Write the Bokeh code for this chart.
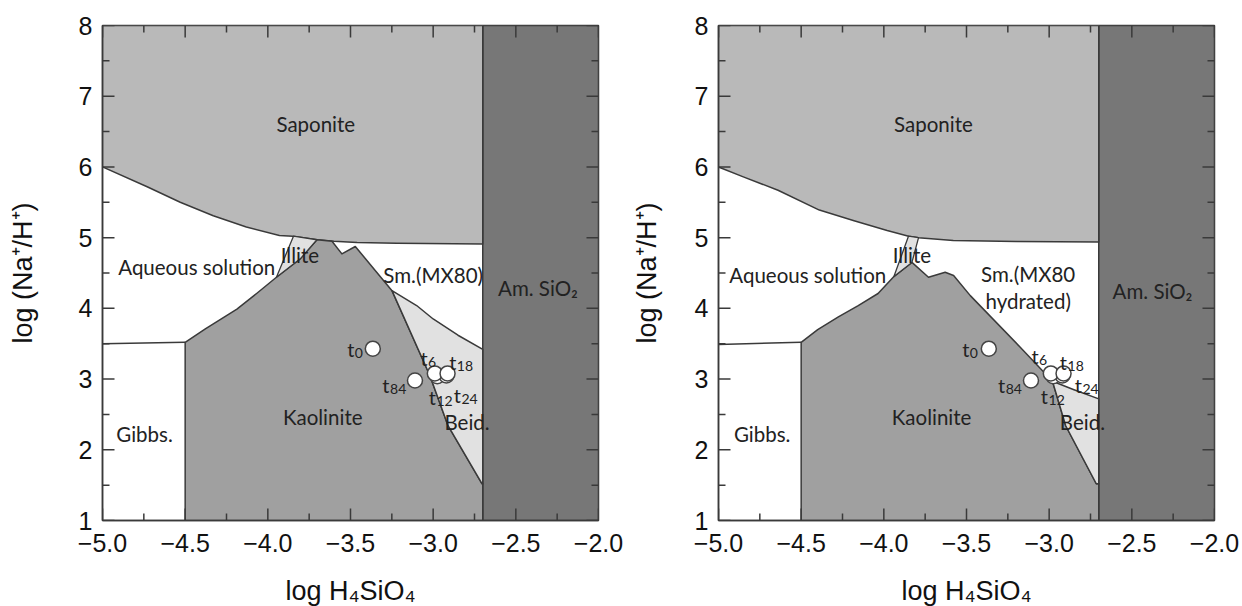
import math
from bokeh.plotting import figure
from bokeh.models import FixedTicker, Range1d
from bokeh.layouts import row
from bokeh.core.properties import value
from bokeh.embed import file_html
from bokeh.resources import INLINE

# ---------------- axes / ticks ----------------
x_min, x_max = -5.0, -2.0
y_min, y_max = 1.0, 8.0
x_ticks = [-5.0, -4.5, -4.0, -3.5, -3.0, -2.5, -2.0]
x_tick_labels = ["−5.0", "−4.5", "−4.0", "−3.5", "−3.0", "−2.5", "−2.0"]
x_minor_ticks = [-4.75, -4.25, -3.75, -3.25, -2.75, -2.25]
y_ticks = [1, 2, 3, 4, 5, 6, 7, 8]
y_tick_labels = ["1", "2", "3", "4", "5", "6", "7", "8"]
y_minor_ticks = [1.5, 2.5, 3.5, 4.5, 5.5, 6.5, 7.5]
x_title = "log H₄SiO₄"
y_title = "log (Na⁺/H⁺)"

am_sio2_left = -2.7

# ---------------- left panel (Sm. MX80) ----------------
L_saponite_x = [-5.0, -4.73, -4.53, -4.33, -4.13, -3.93, -3.85, -3.70, -3.60, -3.46, -3.22, -2.70]
L_saponite_y = [6.00, 5.72, 5.50, 5.31, 5.15, 5.03, 5.02, 4.97, 4.95, 4.93, 4.92, 4.91]

L_kaolinite_x = [-4.5, -4.5, -4.378, -4.187, -4.068, -3.948, -3.804, -3.703, -3.612, -3.552,
                 -3.471, -3.249, -3.02, -2.91, -2.705, -2.7, -2.7]
L_kaolinite_y = [1.0, 3.52, 3.71, 3.99, 4.21, 4.44, 4.70, 4.97, 4.95, 4.77,
                 4.875, 4.25, 3.05, 2.34, 1.52, 1.52, 1.0]

L_illite_x = [-3.845, -3.703, -3.804, -3.948]
L_illite_y = [5.02, 4.97, 4.70, 4.44]

L_beid_x = [-3.249, -3.10, -3.0, -2.85, -2.70, -2.70, -2.705, -2.91, -3.02]
L_beid_y = [4.25, 4.04, 3.85, 3.62, 3.42, 1.52, 1.52, 2.34, 3.05]

L_gibbs_x = [-5.0, -4.5]
L_gibbs_y = [3.50, 3.52]

L_region_labels = ["Saponite", "Aqueous solution", "Illite", "Sm.(MX80)", "Am. SiO₂",
                   "Kaolinite", "Gibbs.", "Beid."]
L_region_x = [-3.71, -4.43, -3.806, -3.0, -2.366, -3.668, -4.746, -2.795]
L_region_y = [6.61, 4.58, 4.75, 4.465, 4.29, 2.46, 2.225, 2.40]

# ---------------- right panel (Sm. MX80 hydrated) ----------------
R_saponite_x = [-5.0, -4.85, -4.64, -4.39, -4.18, -3.98, -3.85, -3.79, -3.58, -3.20, -2.70]
R_saponite_y = [6.00, 5.86, 5.67, 5.39, 5.24, 5.10, 5.02, 5.00, 4.96, 4.945, 4.94]

R_kaolinite_x = [-4.5, -4.5, -4.40, -4.275, -4.155, -4.035, -3.939, -3.83, -3.73, -3.629,
                 -3.578, -3.477, -3.175, -2.98, -2.90, -2.715, -2.7, -2.7]
R_kaolinite_y = [1.0, 3.52, 3.70, 3.88, 4.04, 4.21, 4.45, 4.65, 4.44, 4.51,
                 4.465, 4.18, 3.45, 2.97, 2.34, 1.52, 1.52, 1.0]

R_illite_x = [-3.851, -3.79, -3.83, -3.939]
R_illite_y = [5.02, 5.00, 4.65, 4.45]

R_beid_x = [-2.98, -2.85, -2.70, -2.70, -2.715, -2.90]
R_beid_y = [2.97, 2.85, 2.72, 1.52, 1.52, 2.34]

R_gibbs_x = [-5.0, -4.5]
R_gibbs_y = [3.49, 3.52]

R_region_labels = ["Saponite", "Aqueous solution", "Illite", "Sm.(MX80\nhydrated)", "Am. SiO₂",
                   "Kaolinite", "Gibbs.", "Beid."]
R_region_x = [-3.70, -4.46, -3.83, -3.127, -2.375, -3.711, -4.736, -2.799]
R_region_y = [6.61, 4.465, 4.75, 4.30, 4.25, 2.46, 2.23, 2.39]

# ---------------- sample points (same in both panels) ----------------
t_base = ["t", "t", "t", "t", "t", "t"]
t_sub = ["0", "84", "12", "24", "6", "18"]
t_x = [-3.365, -3.11, -2.975, -2.92, -2.99, -2.913]
t_y = [3.43, 2.98, 3.04, 3.05, 3.08, 3.08]

L_tlabel_x = [-3.477, -3.264, -2.983, -2.832, -3.034, -2.860]
L_tlabel_y = [3.43, 2.92, 2.74, 2.78, 3.30, 3.24]
R_tlabel_x = [-3.483, -3.266, -3.007, -2.802, -3.064, -2.892]
R_tlabel_y = [3.43, 2.92, 2.76, 2.91, 3.32, 3.24]

# ---------------- styles ----------------
C_SAP = "#b9b9b9"
C_KAO = "#a0a0a0"
C_AM = "#777777"
C_LIGHT = "#e1e1e1"
C_LINE = "#3a3a3a"
LABEL_FONT = "Lato"
AXIS_FONT = "Liberation Sans"


def style_axis(ax):
    ax.axis_line_color = C_LINE
    ax.axis_line_width = 1.5
    ax.major_tick_in = 0
    ax.major_tick_out = 0
    ax.minor_tick_in = 0
    ax.minor_tick_out = 0
    ax.major_tick_line_color = None
    ax.minor_tick_line_color = None
    ax.major_label_text_font = AXIS_FONT
    ax.major_label_text_font_size = "25px"
    ax.major_label_text_color = "#111111"
    ax.axis_label_text_font = AXIS_FONT
    ax.axis_label_text_font_size = "27px"
    ax.axis_label_text_font_style = "normal"
    ax.axis_label_text_color = "#111111"


def make_panel(sap_x, sap_y, kao_x, kao_y, ill_x, ill_y, beid_x, beid_y, gib_x, gib_y,
               reg_lab, reg_x, reg_y, tl_x, tl_y, border_left, border_right, ytitle_standoff):
    p = figure(frame_width=496, frame_height=495,
               x_range=Range1d(x_min, x_max), y_range=Range1d(y_min, y_max),
               output_backend="svg", toolbar_location=None,
               min_border_left=border_left, min_border_right=border_right,
               min_border_top=25, min_border_bottom=86,
               background_fill_color="white", border_fill_color="white")
    p.xgrid.visible = False
    p.ygrid.visible = False
    p.outline_line_color = C_LINE
    p.outline_line_width = 1.5

    # Am. SiO2 band
    p.quad(left=am_sio2_left, right=x_max, bottom=y_min, top=y_max,
           fill_color=C_AM, line_color=C_LINE, line_width=1.5)
    # Saponite field: boundary curve closed along the top of the diagram
    p.patch(sap_x + [sap_x[-1], sap_x[0]], sap_y + [y_max, y_max],
            fill_color=C_SAP, line_color=C_LINE, line_width=1.5, line_join="round")
    p.patch(kao_x, kao_y, fill_color=C_KAO, line_color=C_LINE, line_width=1.5, line_join="round")
    p.patch(ill_x, ill_y, fill_color=C_LIGHT, line_color=C_LINE, line_width=1.3, line_join="round")
    p.patch(beid_x, beid_y, fill_color=C_LIGHT, line_color=C_LINE, line_width=1.5, line_join="round")
    p.line(gib_x, gib_y, line_color=C_LINE, line_width=1.5)

    # inward ticks on all four sides, taken from the tick lists
    tk = dict(line_color=C_LINE, line_width=1.5, length_units="screen")
    p.ray(x=x_ticks, y=y_min, length=12, angle=math.pi / 2, **tk)
    p.ray(x=x_minor_ticks, y=y_min, length=7, angle=math.pi / 2, **tk)
    p.ray(x=x_ticks, y=y_max, length=12, angle=-math.pi / 2, **tk)
    p.ray(x=x_minor_ticks, y=y_max, length=7, angle=-math.pi / 2, **tk)
    p.ray(x=x_min, y=y_ticks, length=12, angle=0, **tk)
    p.ray(x=x_min, y=y_minor_ticks, length=7, angle=0, **tk)
    p.ray(x=x_max, y=y_ticks, length=12, angle=math.pi, **tk)
    p.ray(x=x_max, y=y_minor_ticks, length=7, angle=math.pi, **tk)

    p.text(x=reg_x, y=reg_y, text=reg_lab, text_font=value(LABEL_FONT),
           text_font_size="20.5px", text_align="center", text_baseline="middle",
           text_color="#222222", text_line_height=1.12)

    p.scatter(t_x, t_y, size=15, fill_color="white", line_color="#444444", line_width=1.5)
    p.text(x=tl_x, y=tl_y, text=t_base, text_font=value(LABEL_FONT),
           text_font_size="20px", text_align="right", text_baseline="alphabetic",
           text_color="#222222")
    p.text(x=tl_x, y=tl_y, text=t_sub, text_font=value(LABEL_FONT),
           text_font_size="14px", text_align="left", text_baseline="alphabetic",
           y_offset=4, x_offset=0.5, text_color="#222222")

    p.xaxis.ticker = FixedTicker(ticks=x_ticks, minor_ticks=x_minor_ticks)
    p.yaxis.ticker = FixedTicker(ticks=y_ticks, minor_ticks=y_minor_ticks)
    p.xaxis.major_label_overrides = dict(zip(x_ticks, x_tick_labels))
    p.yaxis.major_label_overrides = dict(zip(y_ticks, y_tick_labels))
    p.xaxis.axis_label = x_title
    p.yaxis.axis_label = y_title
    style_axis(p.xaxis[0])
    style_axis(p.yaxis[0])
    p.xaxis.major_label_standoff = 13
    p.yaxis.major_label_standoff = 10
    p.xaxis.axis_label_standoff = 21
    p.yaxis.axis_label_standoff = ytitle_standoff
    return p


p1 = make_panel(L_saponite_x, L_saponite_y, L_kaolinite_x, L_kaolinite_y, L_illite_x, L_illite_y,
                L_beid_x, L_beid_y, L_gibbs_x, L_gibbs_y, L_region_labels, L_region_x, L_region_y,
                L_tlabel_x, L_tlabel_y, 102, 28, 38)
p2 = make_panel(R_saponite_x, R_saponite_y, R_kaolinite_x, R_kaolinite_y, R_illite_x, R_illite_y,
                R_beid_x, R_beid_y, R_gibbs_x, R_gibbs_y, R_region_labels, R_region_x, R_region_y,
                R_tlabel_x, R_tlabel_y, 92, 28, 30)

layout = row(p1, p2)
open("out.html", "w").write(file_html(layout, INLINE))
